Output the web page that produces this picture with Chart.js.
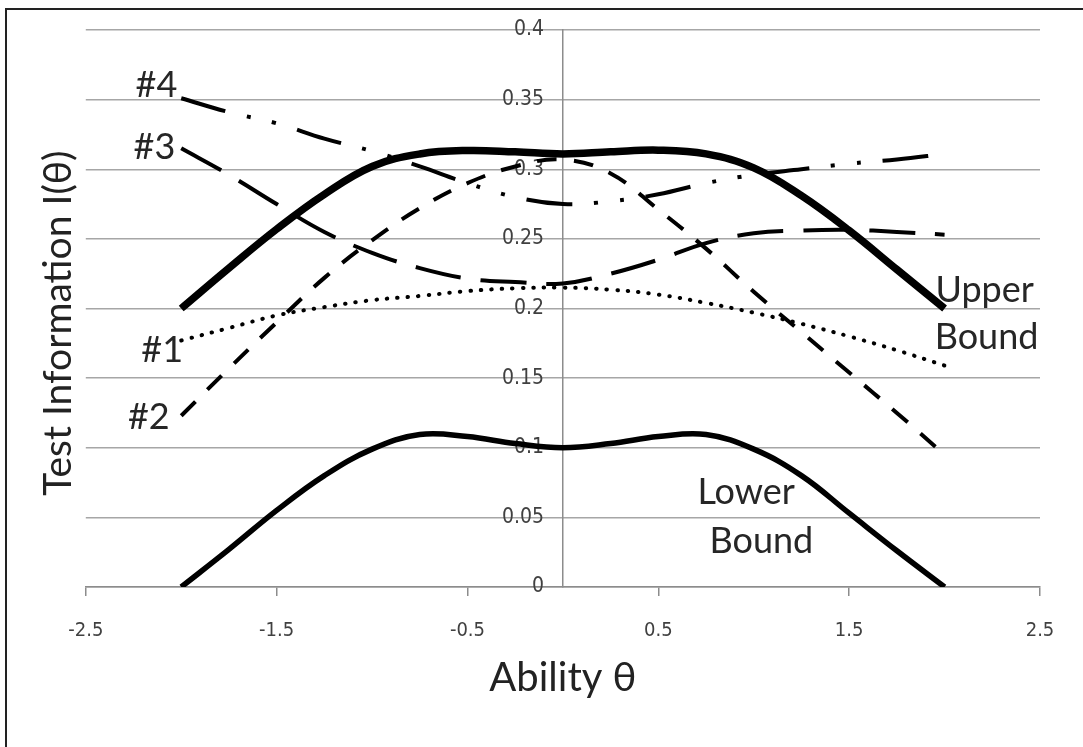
<!DOCTYPE html>
<html lang="en">
<head>
<meta charset="UTF-8">
<title>Test Information</title>
<style>
  body { margin: 0; background: #fff; }
  #wrap { position: relative; width: 1083px; height: 747px; overflow: hidden; background: #fff; }
  /* dark frame, only top and left edges show in the original */
  #frame { position: absolute; left: 5px; top: 8px; right: -10px; bottom: -10px;
           border-left: 2px solid #222; border-top: 2px solid #222; pointer-events: none; }
  canvas { display: block; }
</style>
<script src="https://cdn.jsdelivr.net/npm/chart.js"></script>
</head>
<body>
<div id="wrap">
  <canvas id="infoChart" width="1083" height="747"></canvas>
  <div id="frame"></div>
</div>
<script>
// ability values where each curve was read
var theta = [-2, -1.75, -1.5, -1.25, -1, -0.75, -0.5, -0.25, 0, 0.25, 0.5, 0.75, 1, 1.25, 1.5, 1.75, 2];

var upperBound = [0.200, 0.229, 0.257, 0.282, 0.302, 0.311, 0.3135, 0.3125, 0.311, 0.3125, 0.3137, 0.311, 0.301, 0.281, 0.256, 0.228, 0.200];
var lowerBound = [0.000, 0.027, 0.055, 0.080, 0.099, 0.1095, 0.108, 0.103, 0.100, 0.103, 0.108, 0.1095, 0.099, 0.080, 0.053, 0.026, 0.000];
var test1 = [0.177, 0.186, 0.195, 0.201, 0.206, 0.209, 0.2125, 0.2145, 0.215, 0.2135, 0.210, 0.204, 0.197, 0.189, 0.180, 0.170, 0.159];
var test2 = [0.123, 0.157, 0.190, 0.222, 0.249, 0.272, 0.290, 0.302, 0.307, 0.297, 0.271, 0.243, 0.212, 0.183, 0.154, 0.125, 0.095];
var test3 = [0.315, 0.296, 0.275, 0.255, 0.240, 0.229, 0.2215, 0.219, 0.218, 0.225, 0.235, 0.247, 0.254, 0.256, 0.2565, 0.255, 0.253];
var test4 = [0.351, 0.341, 0.333, 0.322, 0.313, 0.302, 0.290, 0.280, 0.275, 0.277, 0.282, 0.290, 0.296, 0.300, 0.304, 0.307, 0.311];

var xTicks = [-2.5, -1.5, -0.5, 0.5, 1.5, 2.5];
var yTicks = [0, 0.05, 0.1, 0.15, 0.2, 0.25, 0.3, 0.35, 0.4];

// text written inside the plot, placed in data units
var notes = [
  { text: '#4', x: -2.13, y: 0.360 },
  { text: '#3', x: -2.14, y: 0.316 },
  { text: '#1', x: -2.10, y: 0.170 },
  { text: '#2', x: -2.17, y: 0.122 },
  { text: 'Upper', x: 2.21, y: 0.213 },
  { text: 'Bound', x: 2.22, y: 0.179 },
  { text: 'Lower', x: 0.96, y: 0.068 },
  { text: 'Bound', x: 1.04, y: 0.033 }
];

function pts(vals) {
  return theta.map(function (t, i) { return { x: t, y: vals[i] }; });
}

var tickFont = '"Liberation Sans Narrow", "DejaVu Sans Condensed", "Arial Narrow", sans-serif';
var textFont = 'Lato, "Open Sans", sans-serif';

var notesPlugin = {
  id: 'notes',
  afterDatasetsDraw: function (chart) {
    var ctx = chart.ctx, xs = chart.scales.x, ys = chart.scales.y;
    ctx.save();
    ctx.font = '36px ' + textFont;
    ctx.fillStyle = '#262626';
    ctx.textAlign = 'center';
    ctx.textBaseline = 'middle';
    notes.forEach(function (n) {
      ctx.fillText(n.text, xs.getPixelForValue(n.x), ys.getPixelForValue(n.y));
    });
    ctx.restore();
  }
};

var ctx = document.getElementById('infoChart').getContext('2d');
var chart = new Chart(ctx, {
  type: 'line',
  data: {
    datasets: [
      { label: 'Upper Bound', data: pts(upperBound), borderColor: '#000', borderWidth: 7.5 },
      { label: 'Lower Bound', data: pts(lowerBound), borderColor: '#000', borderWidth: 5.5 },
      { label: '#1', data: pts(test1), borderColor: '#000', borderWidth: 4, borderDash: [0.5, 10], borderCapStyle: 'round' },
      { label: '#2', data: pts(test2), borderColor: '#000', borderWidth: 4, borderDash: [20, 17] },
      { label: '#3', data: pts(test3), borderColor: '#000', borderWidth: 4, borderDash: [46, 20] },
      { label: '#4', data: pts(test4), borderColor: '#000', borderWidth: 4, borderDash: [46, 22, 4, 22, 4, 22] }
    ]
  },
  options: {
    responsive: false,
    animation: false,
    devicePixelRatio: 1,
    elements: { point: { radius: 0 }, line: { tension: 0.4 } },
    layout: { padding: { left: 0, top: 30, right: 43, bottom: 49 } },
    plugins: { legend: { display: false }, tooltip: { enabled: false } },
    scales: {
      x: {
        type: 'linear', position: 'bottom', min: -2.5, max: 2.5,
        afterBuildTicks: function (s) { s.ticks = xTicks.map(function (v) { return { value: v }; }); },
        grid: { drawOnChartArea: false, drawTicks: true, tickLength: 9, color: '#8c8c8c', lineWidth: 1.5 },
        border: { display: true, color: '#8c8c8c', width: 1.5 },
        ticks: { padding: 25, color: '#404040', font: { family: tickFont, size: 20, lineHeight: 1 },
                 callback: function (v) { return String(v); } },
        title: { display: true, text: 'Ability θ', color: '#222', font: { family: textFont, size: 40, lineHeight: 1 },
                 padding: { top: -8, bottom: 0 } }
      },
      y: {
        type: 'linear', position: { x: 0 }, min: 0, max: 0.4,
        afterBuildTicks: function (s) { s.ticks = yTicks.map(function (v) { return { value: v }; }); },
        grid: { color: '#a6a6a6', lineWidth: 1.5, drawTicks: false },
        border: { display: true, color: '#8c8c8c', width: 1.5 },
        // labels of an axis placed at x = 0 are right-aligned on the axis line; the em space keeps them off it
        ticks: { padding: 0, color: '#404040', font: { family: tickFont, size: 21, lineHeight: 1 },
                 callback: function (v) { return String(+v.toFixed(2)) + '\u2003'; } }
      },
      yt: {
        type: 'linear', position: 'left', display: true,
        grid: { display: false, drawTicks: false },
        border: { display: false },
        ticks: { display: false },
        // trailing em space nudges the rotated title a little lower, as in the original
        title: { display: true, text: 'Test Information I(θ)\u2003', color: '#222', font: { family: textFont, size: 39 },
                 padding: { top: 35, bottom: 4 } }
      }
    }
  },
  plugins: [notesPlugin]
});
</script>
</body>
</html>
